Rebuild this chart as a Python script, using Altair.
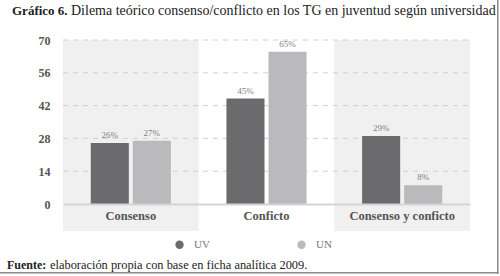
import altair as alt
import pandas as pd

categories = ["Consenso", "Conficto", "Consenso y conficto"]
series = ["UV", "UN"]
uv_values = [26, 45, 29]
un_values = [27, 65, 8]
y_ticks = [0, 14, 28, 42, 56, 70]
shaded = ["Consenso", "Consenso y conficto"]

rows = []
for c, a, b in zip(categories, uv_values, un_values):
    rows.append({"cat": c, "serie": "UV", "val": a, "lab": f"{a}%"})
    rows.append({"cat": c, "serie": "UN", "val": b, "lab": f"{b}%"})
df = pd.DataFrame(rows)
bands = pd.DataFrame({"cat": shaded})
grid = pd.DataFrame({"val": y_ticks[1:]})
frame_r_df = pd.DataFrame({"side": ["right"]})
frame_b_df = pd.DataFrame({"side": ["bottom"]})

W, H = 407, 164
FONT = "'Liberation Serif', 'DejaVu Serif', serif"

xscale = alt.Scale(domain=categories, paddingInner=0, paddingOuter=0)
yscale = alt.Scale(domain=[0, 70], nice=False)
color = alt.Scale(domain=series, range=["#6b6b6e", "#bababd"])

yaxis = alt.Axis(title=None, values=y_ticks, ticks=False, domain=False,
                 labelFont=FONT, labelFontWeight="bold", labelFontSize=12,
                 labelAlign="right", labelOverlap=False, labelBound=False,
                 labelColor="#555555", labelPadding=13, grid=False)
xaxis = alt.Axis(title=None, labelAngle=0, labelAlign="center", ticks=False, domain=True,
                 domainColor="#d4d4d4", domainWidth=2,
                 labelFont=FONT, labelFontWeight="bold", labelFontSize=12.5,
                 labelColor="#555555", labelPadding=5, grid=False)

band = alt.Chart(bands).mark_rect(color="#f0f0f0").encode(
    x=alt.X("cat:N", scale=xscale, sort=categories, axis=xaxis),
    y=alt.value(0),
    y2=alt.value(H + 27),
)

gridlines = alt.Chart(grid).mark_rule(color="#d0d0d0", strokeDash=[5, 5], strokeWidth=1).encode(
    y=alt.Y("val:Q", scale=yscale, axis=yaxis),
    x=alt.value(0),
    x2=alt.value(W),
)

base = alt.Chart(df).encode(
    x=alt.X("cat:N", scale=xscale, sort=categories, axis=xaxis),
    xOffset=alt.XOffset("serie:N", scale=alt.Scale(domain=series, paddingInner=0.095, paddingOuter=0.66)),
)

bars = base.mark_bar().encode(
    y=alt.Y("val:Q", scale=yscale, axis=yaxis),
    color=alt.Color("serie:N", scale=color, sort=series,
                    legend=alt.Legend(title=None, orient="none", direction="horizontal",
                                      legendX=111, legendY=199, symbolType="circle",
                                      symbolSize=70, symbolStrokeWidth=0,
                                      labelFont=FONT, labelFontSize=11, labelColor="#777777",
                                      labelOffset=9, columnPadding=86)),
)

labels = base.mark_text(baseline="bottom", dy=-3, font=FONT, fontSize=9, color="#808080").encode(
    y=alt.Y("val:Q", scale=yscale, axis=yaxis),
    text="lab:N",
)

title_bold = alt.Chart(pd.DataFrame({"t": ["Gráfico 6."]})).mark_text(
    align="left", baseline="middle", font=FONT, fontSize=13, fontWeight="bold", color="#222222"
).encode(x=alt.value(-51), y=alt.value(-29), text="t:N")
title_reg = alt.Chart(pd.DataFrame({"t": ["Dilema teórico consenso/conflicto en los TG en juventud según universidad"]})).mark_text(
    align="left", baseline="middle", font=FONT, fontSize=14, color="#222222"
).encode(x=alt.value(8), y=alt.value(-29), text="t:N")
foot_bold = alt.Chart(pd.DataFrame({"t": ["Fuente:"]})).mark_text(
    align="left", baseline="middle", font=FONT, fontSize=12, fontWeight="bold", color="#222222"
).encode(x=alt.value(-56), y=alt.value(H + 61), text="t:N")
foot_reg = alt.Chart(pd.DataFrame({"t": ["elaboración propia con base en ficha analítica 2009."]})).mark_text(
    align="left", baseline="middle", font=FONT, fontSize=12.4, color="#222222"
).encode(x=alt.value(-13), y=alt.value(H + 61), text="t:N")

frame_r = alt.Chart(frame_r_df).mark_rect(color="#8a8a8a").encode(
    x=alt.value(W + 27), x2=alt.value(W + 28.5), y=alt.value(-40), y2=alt.value(H + 70))
frame_b = alt.Chart(frame_b_df).mark_rect(color="#8a8a8a").encode(
    x=alt.value(-63), x2=alt.value(W + 28.5), y=alt.value(H + 68), y2=alt.value(H + 69.5))

chart = alt.layer(band, gridlines, bars, labels, title_bold, title_reg, foot_bold, foot_reg,
                  frame_r, frame_b).properties(
    width=W, height=H,
    padding={"left": 63, "top": 40, "right": 30, "bottom": 72},
    autosize=alt.AutoSizeParams(type="none"),
    background="white",
).configure_view(stroke=None)

chart.save("out.html", embed_options={"renderer": "svg", "actions": False})
